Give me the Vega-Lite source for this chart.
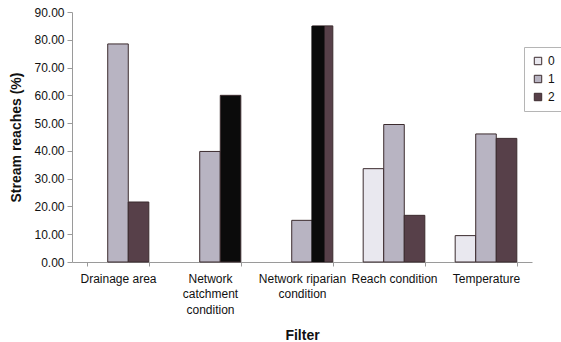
{
  "$schema": "https://vega.github.io/schema/vega-lite/v6.json",
  "width": 460,
  "height": 250,
  "autosize": "none",
  "padding": {"left": 72, "top": 12, "right": 29, "bottom": 80},
  "background": "white",
  "config": {
    "view": {"stroke": null},
    "font": "Liberation Sans",
    "axis": {
      "domainColor": "#9a9a9a",
      "tickColor": "#9a9a9a",
      "labelColor": "#111111",
      "titleColor": "#111111",
      "labelFontSize": 12,
      "titleFontSize": 14,
      "titleFontWeight": "bold",
      "grid": false
    }
  },
  "data": {
    "values": [
      {"Filter": "Drainage area", "Series": "1", "Value": 78.5},
      {"Filter": "Drainage area", "Series": "2", "Value": 21.6},
      {"Filter": "Network catchment condition", "Series": "1", "Value": 39.8},
      {"Filter": "Network catchment condition", "Series": "2", "Value": 60.0},
      {"Filter": "Network riparian condition", "Series": "1", "Value": 15.0},
      {"Filter": "Network riparian condition", "Series": "2", "Value": 85.0},
      {"Filter": "Reach condition", "Series": "0", "Value": 33.6},
      {"Filter": "Reach condition", "Series": "1", "Value": 49.5},
      {"Filter": "Reach condition", "Series": "2", "Value": 16.8},
      {"Filter": "Temperature", "Series": "0", "Value": 9.5},
      {"Filter": "Temperature", "Series": "1", "Value": 46.1},
      {"Filter": "Temperature", "Series": "2", "Value": 44.5}
    ]
  },
  "encoding": {
    "x": {
      "field": "Filter",
      "type": "nominal",
      "sort": ["Drainage area", "Network catchment condition", "Network riparian condition", "Reach condition", "Temperature"],
      "scale": {"paddingInner": 0.33, "paddingOuter": 0.165},
      "axis": {
        "title": "Filter",
        "titlePadding": 13,
        "labelAngle": 0,
        "labelPadding": 7,
        "labelLimit": 0,
        "labelOverlap": false,
        "labelLineHeight": 15.5,
        "tickBand": "extent",
        "tickSize": 4,
        "labelExpr": "datum.value == 'Network catchment condition' ? ['Network', 'catchment', 'condition'] : datum.value == 'Network riparian condition' ? ['Network riparian', 'condition'] : datum.value"
      }
    },
    "y": {
      "field": "Value",
      "type": "quantitative",
      "scale": {"domain": [0, 90], "nice": false},
      "axis": {
        "title": "Stream reaches (%)",
        "values": [0, 10, 20, 30, 40, 50, 60, 70, 80, 90],
        "format": ".2f",
        "tickSize": 5,
        "labelPadding": 3,
        "titlePadding": 10
      }
    }
  },
  "layer": [
    {
      "mark": {"type": "bar", "stroke": "#3b2b2e", "strokeWidth": 1},
      "encoding": {
        "xOffset": {"field": "Series", "type": "nominal", "sort": ["0", "1", "2"], "scale": {"paddingInner": 0, "paddingOuter": 0}},
        "color": {
          "field": "Series",
          "type": "nominal",
          "sort": ["0", "1", "2"],
          "scale": {"domain": ["0", "1", "2"], "range": ["#e9e8ef", "#b8b4c2", "#574049"]},
          "legend": {
            "title": null,
            "orient": "none",
            "legendX": 452,
            "legendY": 35,
            "symbolType": "square",
            "symbolSize": 55,
            "symbolStrokeColor": "#3b2b2e",
            "symbolStrokeWidth": 1,
            "labelFontSize": 12,
            "labelColor": "#111111",
            "strokeColor": "#b5b5b5",
            "fillColor": "white",
            "padding": 8,
            "rowPadding": 6,
            "labelOffset": 4
          },
          "condition": {"test": "datum.Series == '2' && datum.Filter == 'Network catchment condition'", "value": "#0b0b0b"}
        }
      }
    },
    {
      "transform": [{"filter": "datum.Series == '2' && datum.Filter == 'Network riparian condition'"}],
      "mark": {"type": "bar", "color": "#0b0b0b"},
      "encoding": {
        "xOffset": {
          "field": "Series",
          "type": "nominal",
          "scale": {"domain": ["0", "1", "2"], "paddingInner": 0, "paddingOuter": 0.87, "align": 0.633}
        }
      }
    }
  ],
  "resolve": {"scale": {"xOffset": "independent"}}
}
